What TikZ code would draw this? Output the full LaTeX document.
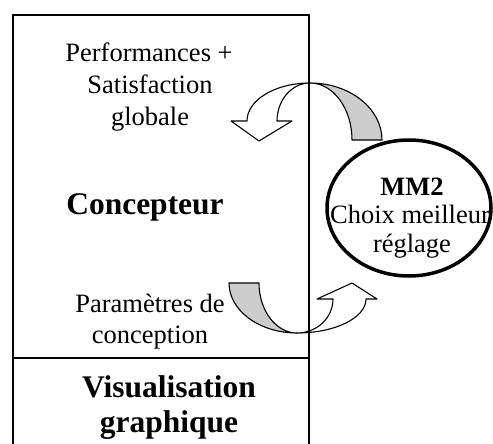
\documentclass[tikz,border=0pt]{standalone}
\usepackage{fontspec}
\setmainfont{Liberation Serif}
\usetikzlibrary{shapes.geometric}
\begin{document}
\begin{tikzpicture}[x=1pt,y=-1pt,
  reg/.style={anchor=base,inner sep=0pt,font=\fontsize{26.5}{31.5}\selectfont},
  bld/.style={anchor=base,inner sep=0pt,font=\fontsize{31.5}{36}\selectfont\bfseries},
  boxline/.style={line width=2pt},
  band/.style={line width=1.1pt,line join=round},
  shade/.style={band,fill=black!20}]
\useasboundingbox (0,0) rectangle (493,444);
% curved arrows
\draw[shade] (310,83) arc[start angle=90,end angle=0,x radius=72pt,y radius=57pt]
   -- (352,140) arc[start angle=0,end angle=90,x radius=42pt,y radius=57pt] -- cycle;
\draw[band,fill=white] (310,83) arc[start angle=90,end angle=180,x radius=63pt,y radius=38pt]
   -- (231,121) -- (259,141) -- (292,121) -- (277,121)
   arc[start angle=180,end angle=90,x radius=33pt,y radius=38pt] -- cycle;
\draw[shade] (229,283) arc[start angle=180,end angle=270,x radius=68pt,y radius=50pt]
   arc[start angle=270,end angle=180,x radius=38pt,y radius=50pt] -- cycle;
\draw[band,fill=white] (297,333) arc[start angle=270,end angle=360,x radius=69pt,y radius=34pt]
   -- (377,299) -- (352,283) -- (317,299) -- (333,299)
   arc[start angle=0,end angle=-90,x radius=36pt,y radius=34pt] -- cycle;
% box
\coordinate (bl) at (13,444);
\coordinate (tl) at (13,15);
\coordinate (tr) at (309,15);
\coordinate (br) at (309,444);
\coordinate (ml) at (13,358);
\coordinate (mr) at (309,358);
\draw[boxline] (bl) -- (tl) -- (tr) -- (br);
\draw[boxline] (ml) -- (mr);
% ellipse
\node[ellipse,draw,line width=3.5pt,minimum width=164pt,minimum height=136pt] (mm) at (409,208) {};
\node[bld,font=\fontsize{26.5}{31.5}\selectfont\bfseries] (mmt) at (412,195) {MM2};
\node[reg] (choix) at (410,223) {Choix meilleur};
\node[reg] (regl) at (412,252) {réglage};
% texts
\node[reg] (perf) at (149,62) {Performances +};
\node[reg] (sat) at (150,93) {Satisfaction};
\node[reg] (glob) at (150,125) {globale};
\node[bld] (conc) at (145,214) {Concepteur};
\node[reg] (param) at (150,312) {Paramètres de};
\node[reg] (concp) at (150,343) {conception};
\node[bld] (visu) at (169,397) {Visualisation};
\node[bld] (graph) at (169,432) {graphique};
\end{tikzpicture}
\end{document}
